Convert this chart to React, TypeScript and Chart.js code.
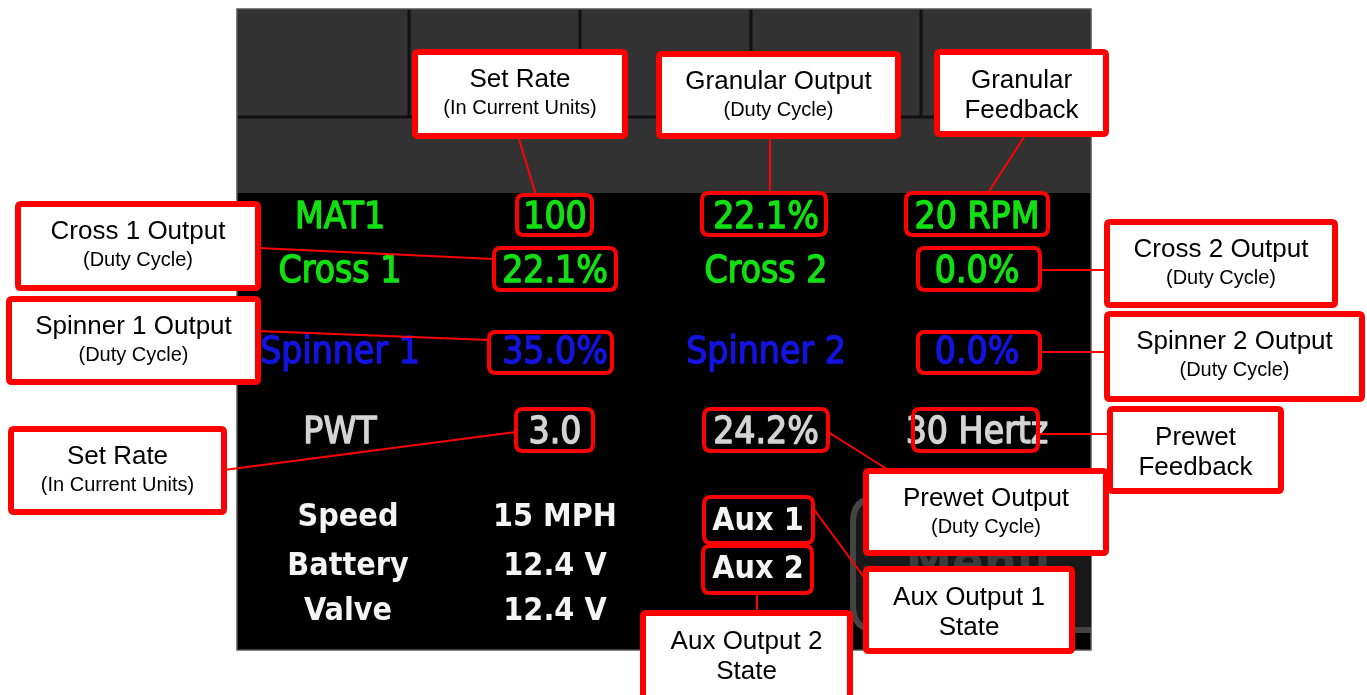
import React, { useEffect, useRef } from "react";
import { Chart, registerables } from "chart.js";

Chart.register(...registerables);

// ---- content ----
const rowLabels = ["MAT1", "Cross 1", "Spinner 1", "PWT"];
const rowValues1 = ["100", "22.1%", "35.0%", "3.0"];
const rowMiddle = ["22.1%", "Cross 2", "Spinner 2", "24.2%"];
const rowValues2 = ["20 RPM", "0.0%", "0.0%", "30 Hertz"];
const statusLabels = ["Speed", "Battery", "Valve"];
const statusValues = ["15 MPH", "12.4 V", "12.4 V"];
const auxLabels = ["Aux 1", "Aux 2"];
const menuLabel = "Menu";
const calloutTitles = [
  ["Set Rate"],
  ["Granular Output"],
  ["Granular", "Feedback"],
  ["Cross 1 Output"],
  ["Spinner 1 Output"],
  ["Set Rate"],
  ["Cross 2 Output"],
  ["Spinner 2 Output"],
  ["Prewet", "Feedback"],
  ["Prewet Output"],
  ["Aux Output 1", "State"],
  ["Aux Output 2", "State"],
];
const calloutSubtitles = [
  "(In Current Units)",
  "(Duty Cycle)",
  "",
  "(Duty Cycle)",
  "(Duty Cycle)",
  "(In Current Units)",
  "(Duty Cycle)",
  "(Duty Cycle)",
  "",
  "(Duty Cycle)",
  "",
  "",
];

// ---- layout (positions in data units of the hidden scales) ----
const rowY = [218, 272, 353, 433];
const colX = [340, 555, 766, 977];
const statusY = [518, 567, 612];
const statusLabelX = 348;
const statusValueX = 555;
const auxX = 758;
const auxY = [522, 570];
const rowColors = ["#12e012", "#12e012", "#1414e0", "#d4d4d4"];
// value boxes [x1,y1,x2,y2]
const valueBoxes = [
  [517, 195, 592, 235],
  [702, 193, 826, 235],
  [906, 193, 1048, 235],
  [494, 248, 616, 290],
  [918, 248, 1040, 290],
  [489, 332, 612, 373],
  [918, 332, 1040, 373],
  [516, 409, 593, 451],
  [704, 409, 828, 451],
  [913, 409, 1038, 451],
  [704, 497, 813, 543],
  [703, 546, 812, 593],
];
// callout boxes [x1,y1,x2,y2]
const calloutBoxes = [
  [415, 52, 625, 136],
  [659, 54, 898, 136],
  [937, 52, 1106, 134],
  [18, 204, 258, 288],
  [9, 299, 258, 382],
  [11, 429, 224, 512],
  [1107, 222, 1335, 305],
  [1107, 314, 1362, 399],
  [1110, 409, 1281, 491],
  [866, 471, 1106, 553],
  [866, 569, 1072, 651],
  [643, 613, 850, 700],
];
// connectors [x1,y1,x2,y2]
const connectors = [
  [518, 136, 536, 195],
  [770, 136, 770, 193],
  [1026, 134, 988, 193],
  [258, 248, 494, 259],
  [258, 331, 489, 340],
  [224, 470, 516, 432],
  [1040, 270, 1107, 270],
  [1040, 352, 1107, 352],
  [1038, 434, 1110, 434],
  [828, 432, 890, 471],
  [813, 508, 866, 580],
  [757, 593, 757, 613],
];
const panel = { x1: 237, y1: 9, x2: 1091, y2: 650, grayBottom: 193, rowSplit: 117 };
const buttonSplits = [409, 580, 751, 921];

const displayFont = "'DejaVu Sans Condensed', 'DejaVu Sans', sans-serif";
const calloutFont = "'Liberation Sans', Arial, sans-serif";

function rr(ctx: CanvasRenderingContext2D, x1: number, y1: number, x2: number, y2: number, r: number) {
  ctx.beginPath();
  ctx.moveTo(x1 + r, y1);
  ctx.lineTo(x2 - r, y1);
  ctx.quadraticCurveTo(x2, y1, x2, y1 + r);
  ctx.lineTo(x2, y2 - r);
  ctx.quadraticCurveTo(x2, y2, x2 - r, y2);
  ctx.lineTo(x1 + r, y2);
  ctx.quadraticCurveTo(x1, y2, x1, y2 - r);
  ctx.lineTo(x1, y1 + r);
  ctx.quadraticCurveTo(x1, y1, x1 + r, y1);
  ctx.closePath();
}

const screenPlugin = {
  id: "screen",
  beforeDatasetsDraw(chart: any) {
    const ctx: CanvasRenderingContext2D = chart.ctx;
    const xs = chart.scales.x;
    const ys = chart.scales.y;
    const X = (v: number) => xs.getPixelForValue(v);
    const Y = (v: number) => ys.getPixelForValue(v);
    ctx.save();
    // background
    ctx.fillStyle = "#ffffff";
    ctx.fillRect(0, 0, chart.width, chart.height);
    // panel
    ctx.fillStyle = "#000000";
    ctx.fillRect(X(panel.x1), Y(panel.y1), X(panel.x2) - X(panel.x1), Y(panel.y2) - Y(panel.y1));
    ctx.fillStyle = "#323232";
    ctx.fillRect(X(panel.x1), Y(panel.y1), X(panel.x2) - X(panel.x1), Y(panel.grayBottom) - Y(panel.y1));
    ctx.strokeStyle = "#111111";
    ctx.lineWidth = 3;
    ctx.beginPath();
    ctx.moveTo(X(panel.x1), Y(panel.rowSplit));
    ctx.lineTo(X(panel.x2), Y(panel.rowSplit));
    buttonSplits.forEach((bx) => {
      ctx.moveTo(X(bx), Y(panel.y1));
      ctx.lineTo(X(bx), Y(panel.rowSplit));
    });
    ctx.stroke();
    ctx.strokeStyle = "#555555";
    ctx.lineWidth = 1.5;
    ctx.strokeRect(X(panel.x1), Y(panel.y1), X(panel.x2) - X(panel.x1), Y(panel.y2) - Y(panel.y1));

    // menu button (partly hidden)
    ctx.save();
    ctx.beginPath();
    ctx.rect(X(panel.x1), Y(panel.y1), X(panel.x2) - X(panel.x1), Y(panel.y2) - Y(panel.y1));
    ctx.clip();
    rr(ctx, X(853), Y(498), X(1110), Y(630), 24);
    ctx.fillStyle = "#181818";
    ctx.fill();
    ctx.strokeStyle = "#444444";
    ctx.lineWidth = 6;
    ctx.stroke();
    ctx.fillStyle = "#3c3c3c";
    ctx.font = `bold 52px ${displayFont}`;
    ctx.textAlign = "center";
    ctx.textBaseline = "middle";
    ctx.fillText(menuLabel, X(978), Y(566));
    ctx.restore();

    // display text
    ctx.textAlign = "center";
    ctx.textBaseline = "middle";
    ctx.font = `37px ${displayFont}`;
    ctx.lineWidth = 1.3;
    ctx.lineJoin = "round";
    rowLabels.forEach((t, i) => {
      ctx.fillStyle = rowColors[i];
      ctx.strokeStyle = rowColors[i];
      [
        [t, colX[0]],
        [rowValues1[i], colX[1]],
        [rowMiddle[i], colX[2]],
        [rowValues2[i], colX[3]],
      ].forEach(([s, x]) => {
        ctx.fillText(s as string, X(x as number), Y(rowY[i]));
        ctx.strokeText(s as string, X(x as number), Y(rowY[i]));
      });
    });
    ctx.fillStyle = "#f4f4f4";
    ctx.font = `bold 32px ${displayFont}`;
    statusLabels.forEach((t, i) => {
      ctx.fillText(t, X(statusLabelX), Y(statusY[i]));
      ctx.fillText(statusValues[i], X(statusValueX), Y(statusY[i]));
    });
    auxLabels.forEach((t, i) => {
      ctx.fillText(t, X(auxX), Y(auxY[i]));
    });

    // connectors
    ctx.strokeStyle = "#ff0000";
    ctx.lineWidth = 2;
    connectors.forEach(([a, b, c, d]) => {
      ctx.beginPath();
      ctx.moveTo(X(a), Y(b));
      ctx.lineTo(X(c), Y(d));
      ctx.stroke();
    });

    // value boxes
    ctx.lineWidth = 4;
    valueBoxes.forEach(([a, b, c, d]) => {
      rr(ctx, X(a), Y(b), X(c), Y(d), 7);
      ctx.stroke();
    });

    // callouts
    calloutBoxes.forEach(([a, b, c, d], i) => {
      rr(ctx, X(a), Y(b), X(c), Y(d), 3);
      ctx.fillStyle = "#ffffff";
      ctx.fill();
      ctx.lineWidth = 6;
      ctx.strokeStyle = "#ff0000";
      ctx.stroke();
      const cx = (X(a) + X(c)) / 2;
      const top = Y(b);
      const titles = calloutTitles[i];
      const sub = calloutSubtitles[i];
      ctx.fillStyle = "#000000";
      ctx.textAlign = "center";
      ctx.textBaseline = "middle";
      ctx.font = `26px ${calloutFont}`;
      if (titles.length === 2) {
        ctx.fillText(titles[0], cx, top + 29);
        ctx.fillText(titles[1], cx, top + 59);
      } else {
        ctx.fillText(titles[0], cx, top + 28);
        ctx.font = `20px ${calloutFont}`;
        ctx.fillText(sub, cx, top + 56);
      }
    });
    ctx.restore();
  },
};

export default function App() {
  const ref = useRef<HTMLCanvasElement | null>(null);
  useEffect(() => {
    if (!ref.current) return;
    const chart = new Chart(ref.current, {
      type: "scatter",
      data: {
        datasets: [
          {
            label: "anchors",
            data: valueBoxes.map(([a, b, c, d]) => ({ x: (a + c) / 2, y: (b + d) / 2 })),
            pointRadius: 0,
            showLine: false,
          },
        ],
      },
      options: {
        animation: false,
        responsive: true,
        maintainAspectRatio: false,
        layout: { padding: 0 },
        plugins: { legend: { display: false }, tooltip: { enabled: false } },
        scales: {
          x: { type: "linear", min: 0, max: 1367, display: false },
          y: { type: "linear", min: 0, max: 695, reverse: true, display: false },
        },
      },
      plugins: [screenPlugin],
    });
    return () => chart.destroy();
  }, []);
  return (
    <div style={{ position: "fixed", left: 0, top: 0, width: 1367, height: 695, background: "#fff" }}>
      <canvas ref={ref} />
    </div>
  );
}
